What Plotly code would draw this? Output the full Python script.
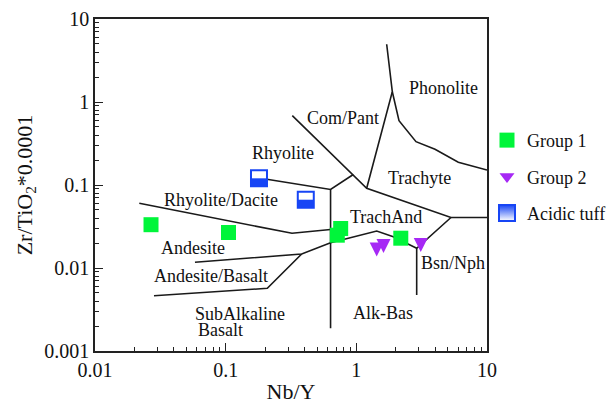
import math
import plotly.graph_objects as go

# ---- data ----
# Field boundary lines (Nb/Y, Zr/TiO2*0.0001)
phon_left_x = [1.707, 1.885, 1.2]
phon_left_y = [4.96, 1.33, 0.0912]
phon_right_x = [1.885, 2.121, 2.862, 4.0, 6.03, 10.0]
phon_right_y = [1.33, 0.595, 0.3324, 0.2692, 0.1877, 0.1516]
compant_x = [0.3236, 1.2, 5.30, 10.0]
compant_y = [0.684, 0.0912, 0.0406, 0.0406]
rhyo_x = [0.18, 0.635, 0.948]
rhyo_y = [0.1214, 0.0883, 0.1338]
alk_x = [0.635, 0.635]
alk_y = [0.0883, 0.00188]
rhyodac_x = [0.02183, 0.3219, 0.635]
rhyodac_y = [0.0602, 0.0262, 0.0291]
andes_x = [0.0582, 0.3818, 0.635, 1.432, 1.918, 2.429, 2.897, 5.30]
andes_y = [0.01171, 0.01474, 0.02018, 0.0279, 0.02383, 0.01984, 0.01727, 0.0406]
bsn_x = [2.897, 2.897]
bsn_y = [0.01727, 0.00473]
andbas_x = [0.02828, 0.2083, 0.3818]
andbas_y = [0.004637, 0.00569, 0.01474]

field_names = ["Phonolite", "Com/Pant", "Rhyolite", "Trachyte", "Rhyolite/Dacite",
               "Andesite", "Andesite/Basalt", "SubAlkaline", "Basalt", "TrachAnd",
               "Bsn/Nph", "Alk-Bas"]
field_x = [4.605, 0.797, 0.277, 3.07, 0.0929, 0.0562, 0.0779, 0.1288, 0.0905, 1.701, 5.49, 1.6]
field_y = [1.475, 0.641, 0.2429, 0.1214, 0.066, 0.01756, 0.00801, 0.00281, 0.00180, 0.0408, 0.01139, 0.002846]

# Samples
g1_x = [0.02683, 0.1051, 0.759, 0.715, 2.189]
g1_y = [0.03324, 0.02677, 0.0299, 0.02485, 0.02286]
g2_x = [1.432, 1.614, 3.113]          # lower tip of each down-pointing triangle
g2_y = [0.01376, 0.01516, 0.01559]
tuff_x = [0.1799, 0.4103]
tuff_y = [0.1204, 0.0665]

x_ticks = [0.01, 0.1, 1, 10]
x_ticktext = ["0.01", "0.1", "1", "10"]
y_ticks = [0.001, 0.01, 0.1, 1, 10]
y_ticktext = ["0.001", "0.01", "0.1", "1", "10"]

# ---- figure ----
FONT = "Liberation Serif"
LINE = dict(color="#1a1a1a", width=1.6)
GREEN = "#00f53a"
PURPLE = "#a628f5"
BLUE = "#1745f5"

fig = go.Figure()
for xs, ys in [(phon_left_x, phon_left_y), (phon_right_x, phon_right_y),
               (compant_x, compant_y), (rhyo_x, rhyo_y), (alk_x, alk_y),
               (rhyodac_x, rhyodac_y), (andes_x, andes_y), (bsn_x, bsn_y),
               (andbas_x, andbas_y)]:
    fig.add_trace(go.Scatter(x=xs, y=ys, mode="lines", line=LINE,
                             showlegend=False, hoverinfo="skip"))

fig.add_trace(go.Scatter(x=g1_x, y=g1_y, mode="markers", name="Group 1",
                         legendgroup="a",
                         marker=dict(symbol="square", size=15, color=GREEN)))
fig.add_trace(go.Scatter(x=g2_x, y=g2_y, mode="markers", name="Group 2",
                         legendgroup="b", showlegend=False,
                         marker=dict(symbol="arrow-down", size=14, color=PURPLE,
                                     line=dict(width=0))))
fig.add_trace(go.Scatter(x=[None], y=[None], mode="markers", name="Group 2",
                         legendgroup="b",
                         marker=dict(symbol="triangle-down", size=13, color=PURPLE)))
# Acidic tuff: white square with blue outline, lower half filled blue
fig.add_trace(go.Scatter(x=tuff_x, y=tuff_y, mode="markers", showlegend=False,
                         marker=dict(symbol="square", size=16, color="white",
                                     line=dict(color=BLUE, width=2))))
fig.add_trace(go.Scatter(x=tuff_x, y=tuff_y, mode="markers", showlegend=False,
                         marker=dict(size=1, opacity=0),
                         error_y=dict(type="percent", symmetric=False, value=0,
                                      valueminus=20, thickness=16, width=0,
                                      color=BLUE)))
# legend entry for acidic tuff
fig.add_trace(go.Scatter(x=[None], y=[None], mode="markers", name="Acidic tuff",
                         legendgroup="c",
                         marker=dict(symbol="square", size=16, color=BLUE,
                                     line=dict(color=BLUE, width=2),
                                     gradient=dict(type="vertical", color="white"))))

for name, xv, yv in zip(field_names, field_x, field_y):
    fig.add_annotation(x=math.log10(xv), y=math.log10(yv), xref="x", yref="y",
                       text=name, showarrow=False,
                       font=dict(family=FONT, size=18, color="#111"))

axis_common = dict(type="log", showgrid=False, zeroline=False, showline=True,
                   linecolor="#222", linewidth=1.5, mirror=True,
                   ticks="inside", ticklen=8, tickwidth=1.2, tickcolor="#222",
                   tickfont=dict(family=FONT, size=20, color="#111"),
                   minor=dict(ticks="inside", ticklen=4, tickwidth=1, tickcolor="#222",
                              dtick="D1", showgrid=False))

fig.update_xaxes(range=[-2, 1], tickmode="array", tickvals=x_ticks, ticktext=x_ticktext,
                 title=dict(text="Nb/Y", font=dict(family=FONT, size=22, color="#111"),
                            standoff=8),
                 **axis_common)
fig.update_yaxes(range=[-3, 1], tickmode="array", tickvals=y_ticks, ticktext=y_ticktext,
                 title=dict(text="Zr/TiO<sub>2</sub>*0.0001",
                            font=dict(family=FONT, size=22, color="#111"), standoff=6),
                 **axis_common)

fig.update_layout(
    width=610, height=404,
    margin=dict(l=95, r=123, t=19, b=53, autoexpand=False),
    paper_bgcolor="white", plot_bgcolor="white",
    font=dict(family=FONT, color="#111"),
    legend=dict(x=1.0, y=0.69, xanchor="left", yanchor="top",
                font=dict(family=FONT, size=18, color="#111"),
                traceorder="grouped", tracegroupgap=10,
                bgcolor="rgba(0,0,0,0)"),
)

fig.write_html("out.html")
